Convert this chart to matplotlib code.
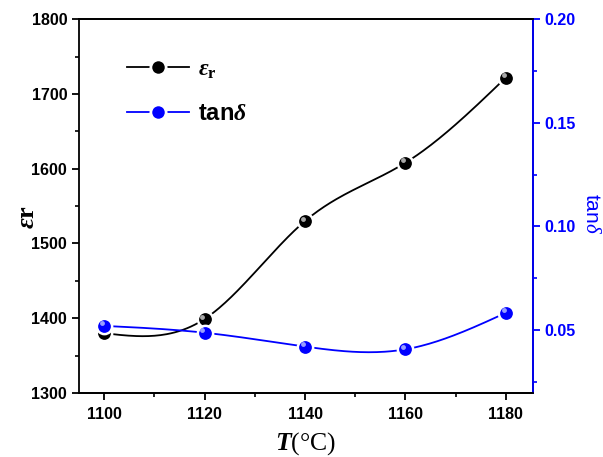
"""
Permitividad y tangente de pérdidas vs temperatura de sinterizado
"""
import numpy as np
import matplotlib
matplotlib.use('Agg')
import matplotlib.pyplot as plt
import matplotlib.transforms as mtransforms
from matplotlib.ticker import MultipleLocator
from matplotlib.lines import Line2D

plt.rcParams['mathtext.fontset'] = 'custom'
plt.rcParams['mathtext.rm'] = 'Liberation Serif:italic'
plt.rcParams['mathtext.it'] = 'Liberation Serif:italic:bold'
plt.rcParams['mathtext.bf'] = 'Liberation Serif:bold'
plt.rcParams['mathtext.sf'] = 'Liberation Sans'

# Datos
temps = [1100, 1120, 1140, 1160, 1180]
eps_r = [1380, 1399, 1530, 1608, 1722]
tan_d = [0.052, 0.0487, 0.042, 0.0407, 0.0583]

BLUE = '#0000ff'


def spline_natural(x, y, n=200):
    # spline cúbico natural, sólo para dibujar la curva suave
    x = np.asarray(x, float)
    y = np.asarray(y, float)
    k = len(x)
    h = np.diff(x)
    A = np.zeros((k, k))
    b = np.zeros(k)
    A[0, 0] = A[-1, -1] = 1
    for i in range(1, k - 1):
        A[i, i - 1] = h[i - 1]
        A[i, i] = 2 * (h[i - 1] + h[i])
        A[i, i + 1] = h[i]
        b[i] = 6 * ((y[i + 1] - y[i]) / h[i] - (y[i] - y[i - 1]) / h[i - 1])
    M = np.linalg.solve(A, b)
    xs = np.linspace(x[0], x[-1], n)
    idx = np.clip(np.searchsorted(x, xs) - 1, 0, k - 2)
    x0, x1 = x[idx], x[idx + 1]
    hh = x1 - x0
    ys = (M[idx] * (x1 - xs) ** 3 / (6 * hh) + M[idx + 1] * (xs - x0) ** 3 / (6 * hh)
          + (y[idx] / hh - M[idx] * hh / 6) * (x1 - xs)
          + (y[idx + 1] / hh - M[idx + 1] * hh / 6) * (xs - x0))
    return xs, ys


fig = plt.figure(figsize=(6.03, 4.57), dpi=100)
ax = fig.add_axes([0.131, 0.140, 0.753, 0.818])
ax2 = ax.twinx()

def bolas(a, x, y, color, shine):
    # marcador tipo esfera: círculo con brillo
    a.plot(x, y, 'o', color=color, markersize=11, markeredgecolor='white',
           markeredgewidth=1.8, zorder=5)
    off = mtransforms.ScaledTranslation(-1.5 / 72, 1.8 / 72, fig.dpi_scale_trans)
    a.plot(x, y, 'o', color=shine, markersize=3.5, markeredgewidth=0,
           transform=a.transData + off, zorder=6, alpha=0.9)

xs, ys = spline_natural(temps, eps_r)
ax.plot(xs, ys, '-', color='black', linewidth=1.3)
bolas(ax, temps, eps_r, 'black', '#bbbbbb')

xs2, ys2 = spline_natural(temps, tan_d)
ax2.plot(xs2, ys2, '-', color=BLUE, linewidth=1.3)
bolas(ax2, temps, tan_d, BLUE, '#aab0ff')

ax.set_xlim(1095, 1185.4)
ax.set_ylim(1300, 1800)
ax2.set_ylim(0.0196, 0.20)

ax.xaxis.set_major_locator(MultipleLocator(20))
ax.xaxis.set_minor_locator(MultipleLocator(10))
ax.yaxis.set_major_locator(MultipleLocator(100))
ax.yaxis.set_minor_locator(MultipleLocator(50))
ax2.yaxis.set_major_locator(MultipleLocator(0.05))
ax2.yaxis.set_minor_locator(MultipleLocator(0.025))

tick_font = {'family': 'Liberation Sans', 'weight': 'bold', 'size': 11.5}
for a in (ax, ax2):
    for s in a.spines.values():
        s.set_linewidth(1.3)
ax2.spines['right'].set_color(BLUE)
ax2.spines['left'].set_visible(False)

ax.tick_params(axis='both', which='major', direction='out', length=5, width=1.3)
ax.tick_params(axis='x', which='major', pad=5)
ax.tick_params(axis='both', which='minor', direction='out', length=3, width=1.2)
ax.tick_params(top=False, right=False)
ax2.tick_params(axis='y', which='major', direction='out', length=5, width=1.3,
                colors=BLUE, pad=3)
ax2.tick_params(axis='y', which='minor', direction='out', length=3, width=1.2, colors=BLUE)

ax.set_xticks(temps)
ax.set_xticklabels([str(t) for t in temps], fontdict=tick_font)
ax.set_yticks([1300, 1400, 1500, 1600, 1700, 1800])
ax.set_yticklabels([str(v) for v in [1300, 1400, 1500, 1600, 1700, 1800]], fontdict=tick_font)
ax2.set_yticks([0.05, 0.10, 0.15, 0.20])
ax2.set_yticklabels(['0.05', '0.10', '0.15', '0.20'], fontdict=tick_font, color=BLUE)

ax.set_xlabel(r'$T$(°C)', family='Liberation Serif', fontsize=18.5)
ax.xaxis.set_label_coords(0.5, -0.1)
ax.set_ylabel(r'$\varepsilon\mathbf{r}$', fontsize=19)
ax.yaxis.set_label_coords(-0.085, 0.47)
ax2.set_ylabel(r'tan$\mathrm{\delta}$', family='Liberation Sans', color=BLUE,
               fontsize=15, rotation=270)
ax2.yaxis.set_label_coords(1.15, 0.48)

# leyenda
h1 = Line2D([], [], color='black', linewidth=1.3, marker='o', markersize=11,
            markerfacecolor='black', markeredgecolor='white', markeredgewidth=2)
h2 = Line2D([], [], color=BLUE, linewidth=1.3, marker='o', markersize=11,
            markerfacecolor=BLUE, markeredgecolor='white', markeredgewidth=2)
ax.legend([h1, h2], [r'$\varepsilon_\mathbf{r}$', r'tan$\delta$'],
          loc='upper left', bbox_to_anchor=(0.06, 0.955), frameon=False,
          prop={'family': 'Liberation Sans', 'weight': 'bold', 'size': 17},
          handlelength=2.6, labelspacing=0.9, handletextpad=0.4)

plt.savefig('out.png', dpi=100)
